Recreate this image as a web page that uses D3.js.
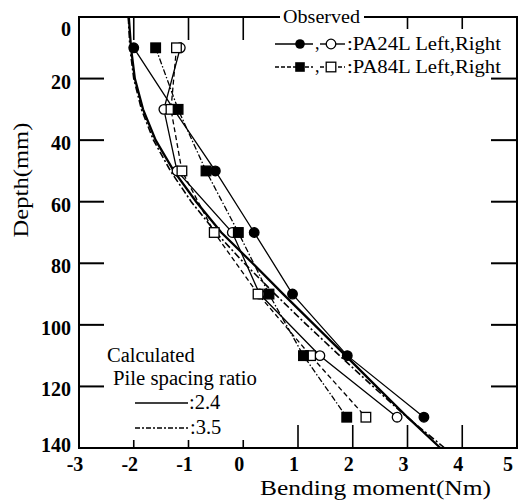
<!DOCTYPE html>
<html><head><meta charset="utf-8">
<script src="https://cdn.jsdelivr.net/npm/d3@7"></script>
<style>
html,body{margin:0;padding:0;background:#fff;}
svg{display:block;}
text{font-family:"Liberation Serif","Times New Roman",serif;fill:#000;}
</style></head>
<body>
<svg id="chart" width="520" height="502"></svg>
<script>
// ---- data ----
const depths = [10, 30, 50, 70, 90, 110, 130];
const pa24Left  = [-2.0, -1.27, -0.51, 0.2, 0.9, 1.9, 3.3];
const pa24Right = [-1.15, -1.45, -1.21, -0.2, 0.3, 1.4, 2.81];
const pa84Left  = [-1.6, -1.19, -0.68, -0.09, 0.47, 1.1, 1.89];
const pa84Right = [-1.22, -1.32, -1.12, -0.53, 0.27, 1.23, 2.24];
const calcDepths = [0, 10, 20, 30, 40, 50, 60, 70, 80, 90, 100, 110, 120, 130, 140];
const calc24 = [-2.09, -2.05, -1.98, -1.83, -1.6, -1.27, -0.86, -0.4, 0.17, 0.73, 1.3, 1.87, 2.43, 3.0, 3.6];
const calc35 = [-2.1, -2.07, -2.0, -1.86, -1.64, -1.33, -0.95, -0.5, 0.02, 0.58, 1.16, 1.76, 2.37, 2.99, 3.68];
const xTicks = [-3, -2, -1, 0, 1, 2, 3, 4, 5];
const yTicks = [0, 20, 40, 60, 80, 100, 120, 140];

const svg = d3.select("#chart");
const x = d3.scaleLinear().domain([-3, 5]).range([79, 517]);
const y = d3.scaleLinear().domain([0, 140]).range([17, 448]);
const L = x(-3), R = x(5), T = y(0), B = y(140);

// ---- calculated curves ----
const line = d3.line().x(d => x(d[0])).y(d => y(d[1]));
svg.append("path").datum(calc35.map((v, i) => [v, calcDepths[i]]))
  .attr("d", line).attr("fill", "none").attr("stroke", "#000")
  .attr("stroke-width", 1.6).attr("stroke-dasharray", "7,2.5,2,2.5");
svg.append("path").datum(calc24.map((v, i) => [v, calcDepths[i]]))
  .attr("d", line).attr("fill", "none").attr("stroke", "#000")
  .attr("stroke-width", 2.3);

// ---- observed lines ----
const series = [
  {vals: pa24Left,  dash: null,        shape: "circle", fill: "#000"},
  {vals: pa24Right, dash: null,        shape: "circle", fill: "#fff"},
  {vals: pa84Right, dash: "5,3",       shape: "square", fill: "#fff"},
  {vals: pa84Left,  dash: "6,2,1.5,2", shape: "square", fill: "#000"}
];
series.forEach(s => {
  svg.append("path").datum(s.vals.map((v, i) => [v, depths[i]]))
    .attr("d", line).attr("fill", "none").attr("stroke", "#000")
    .attr("stroke-width", 1.3).attr("stroke-dasharray", s.dash);
});
series.forEach(s => {
  const pts = s.vals.map((v, i) => [v, depths[i]]);
  if (s.shape === "circle") {
    svg.append("g").selectAll("circle").data(pts).join("circle")
      .attr("cx", d => x(d[0])).attr("cy", d => y(d[1])).attr("r", 4.8)
      .attr("fill", s.fill).attr("stroke", "#000").attr("stroke-width", 1.3);
  } else {
    svg.append("g").selectAll("rect").data(pts).join("rect")
      .attr("x", d => x(d[0]) - 4.8).attr("y", d => y(d[1]) - 4.8)
      .attr("width", 9.6).attr("height", 9.6)
      .attr("fill", s.fill).attr("stroke", "#000").attr("stroke-width", 1.3);
  }
});

// ---- frame and ticks ----
const ax = svg.append("g").attr("stroke", "#000").attr("fill", "none");
ax.append("rect").attr("x", L).attr("y", T).attr("width", R - L).attr("height", B - T)
  .attr("stroke-width", 2);
yTicks.filter(t => t > 0 && t < 140).forEach(t => {
  ax.append("line").attr("x1", L).attr("x2", L + 25).attr("y1", y(t)).attr("y2", y(t)).attr("stroke-width", 2);
  ax.append("line").attr("x1", R).attr("x2", R - 26).attr("y1", y(t)).attr("y2", y(t)).attr("stroke-width", 2);
});
xTicks.filter(t => t > -3 && t < 5).forEach(t => {
  const bl = t <= 0 ? 8 : 23;
  ax.append("line").attr("x1", x(t)).attr("x2", x(t)).attr("y1", B).attr("y2", B - bl).attr("stroke-width", 1.6);
  if (t <= 0 || t >= 3) {
    const tl = t <= 0 ? 23 : 12;
    ax.append("line").attr("x1", x(t)).attr("x2", x(t)).attr("y1", T).attr("y2", T + tl).attr("stroke-width", 1.6);
  }
});

// ---- tick labels ----
const tl = svg.append("g").attr("font-size", 20).attr("font-weight", "bold");
xTicks.forEach(t => {
  tl.append("text").attr("x", x(t) + (t === 5 ? -9 : -4)).attr("y", 471)
    .attr("text-anchor", "middle").text(t);
});
yTicks.forEach(t => {
  const yy = t === 0 ? 36 : (t === 140 ? 452 : y(t) + 10);
  tl.append("text").attr("x", 71).attr("y", yy).attr("text-anchor", "end").text(t);
});

// ---- axis titles ----
svg.append("text").attr("transform", "translate(28,180) rotate(-90)")
  .attr("text-anchor", "middle").attr("font-size", 22)
  .attr("textLength", 115).attr("lengthAdjust", "spacingAndGlyphs").text("Depth(mm)");
svg.append("text").attr("x", 260).attr("y", 495).attr("font-size", 22)
  .attr("textLength", 231).attr("lengthAdjust", "spacingAndGlyphs").text("Bending moment(Nm)");

// ---- Observed legend ----
svg.append("rect").attr("x", 280).attr("y", 8).attr("width", 84).attr("height", 18).attr("fill", "#fff");
svg.append("text").attr("x", 283).attr("y", 23).attr("font-size", 19)
  .attr("textLength", 77).attr("lengthAdjust", "spacingAndGlyphs").text("Observed");

const lg = svg.append("g");
function seg(x1, x2, yy, dash) {
  lg.append("line").attr("x1", x1).attr("x2", x2).attr("y1", yy).attr("y2", yy)
    .attr("stroke", "#000").attr("stroke-width", 1.4).attr("stroke-dasharray", dash);
}
// row 1
seg(275, 313, 44, null);
lg.append("circle").attr("cx", 300).attr("cy", 44).attr("r", 4.8).attr("fill", "#000");
lg.append("text").attr("x", 315).attr("y", 49).attr("font-size", 18).text(",");
seg(320, 345, 44, null);
lg.append("circle").attr("cx", 331).attr("cy", 44).attr("r", 4.8).attr("fill", "#fff").attr("stroke", "#000").attr("stroke-width", 1.3);
lg.append("text").attr("x", 347).attr("y", 49.5).attr("font-size", 18)
  .attr("textLength", 154).attr("lengthAdjust", "spacingAndGlyphs").text(":PA24L Left,Right");
// row 2
seg(275, 313, 67, "4,2");
lg.append("rect").attr("x", 295.2).attr("y", 62.2).attr("width", 9.6).attr("height", 9.6).attr("fill", "#000");
lg.append("text").attr("x", 315).attr("y", 72).attr("font-size", 18).text(",");
seg(320, 345, 67, "4,2");
lg.append("rect").attr("x", 326.2).attr("y", 62.2).attr("width", 9.6).attr("height", 9.6).attr("fill", "#fff").attr("stroke", "#000").attr("stroke-width", 1.3);
lg.append("text").attr("x", 347).attr("y", 72.5).attr("font-size", 18)
  .attr("textLength", 154).attr("lengthAdjust", "spacingAndGlyphs").text(":PA84L Left,Right");

// ---- Calculated legend ----
const cg = svg.append("g").attr("font-size", 20.5);
cg.append("text").attr("x", 107).attr("y", 362).text("Calculated");
cg.append("text").attr("x", 113).attr("y", 385).attr("textLength", 144).attr("lengthAdjust", "spacingAndGlyphs").text("Pile spacing ratio");
cg.append("line").attr("x1", 135).attr("x2", 188).attr("y1", 403).attr("y2", 403).attr("stroke", "#000").attr("stroke-width", 1.6);
cg.append("text").attr("x", 189).attr("y", 409).text(":2.4");
cg.append("line").attr("x1", 135).attr("x2", 189).attr("y1", 428).attr("y2", 428).attr("stroke", "#000").attr("stroke-width", 1.5).attr("stroke-dasharray", "5,2,2,2");
cg.append("text").attr("x", 190).attr("y", 434).text(":3.5");
</script>
</body></html>
